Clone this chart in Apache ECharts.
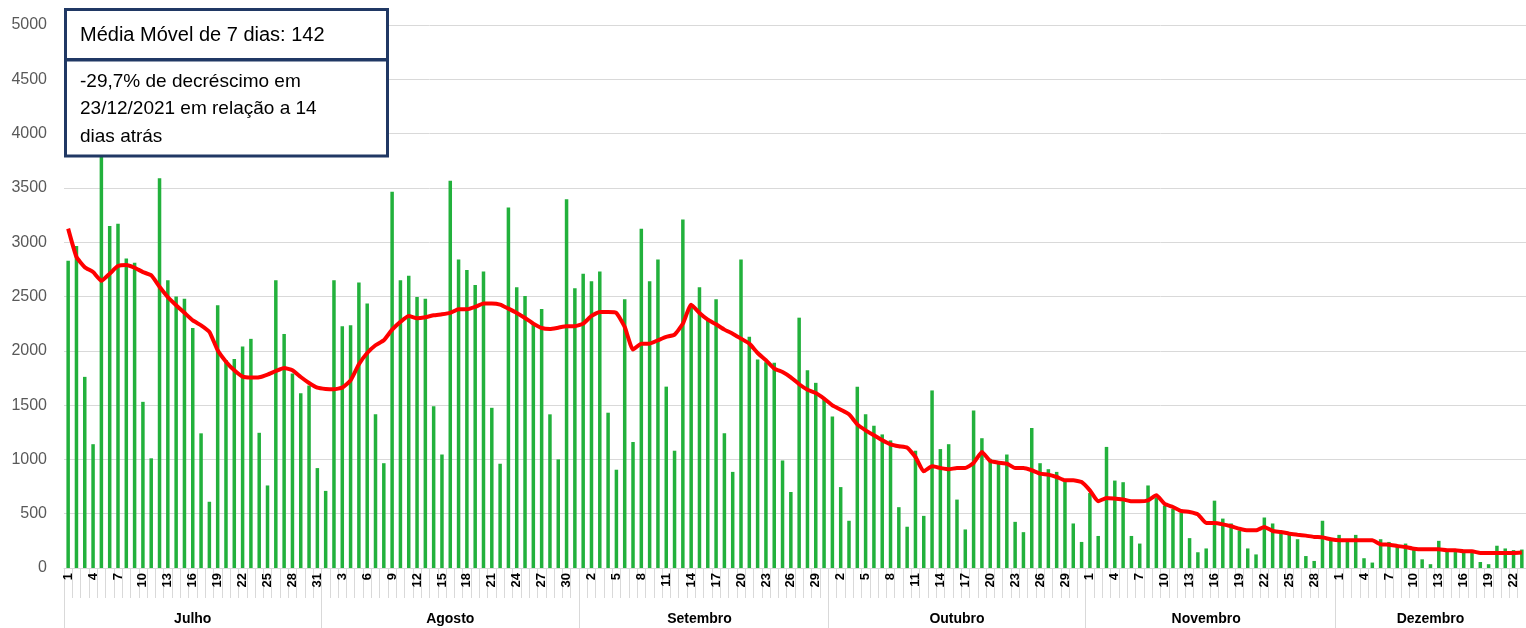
<!DOCTYPE html>
<html>
<head>
<meta charset="utf-8">
<script src="https://cdn.jsdelivr.net/npm/echarts@6/dist/echarts.min.js"></script>
<style>
  html, body { margin: 0; background: #fff; }
  #chart { width: 1526px; height: 628px; }
</style>
</head>
<body>
<div id="chart"></div>
<script>
// meses e dias (dados até 23/12)
const months = ["Julho", "Agosto", "Setembro", "Outubro", "Novembro", "Dezembro"];
const monthDays = [31, 31, 30, 31, 30, 23];

// casos diários
const casosJul = [2830, 2965, 1760, 1140, 3950, 3150, 3170, 2850, 2810, 1530, 1010, 3590, 2650, 2500, 2480, 2210, 1240, 610, 2420, 1915, 1925, 2040, 2110, 1245, 760, 2650, 2155, 1790, 1610, 1680, 920];
const casosAgo = [710, 2650, 2225, 2235, 2630, 2435, 1415, 965, 3465, 2650, 2690, 2495, 2480, 1490, 1045, 3565, 2840, 2745, 2605, 2730, 1475, 960, 3320, 2585, 2505, 2250, 2385, 1415, 1000, 3395, 2575];
const casosSet = [2710, 2640, 2730, 1430, 905, 2475, 1160, 3125, 2640, 2840, 1670, 1080, 3210, 2400, 2585, 2280, 2475, 1240, 885, 2840, 2130, 1920, 1895, 1890, 990, 700, 2305, 1820, 1705, 1560];
const casosOut = [1395, 745, 435, 1670, 1415, 1310, 1230, 1175, 560, 380, 1080, 480, 1635, 1095, 1140, 630, 355, 1450, 1195, 1005, 975, 1045, 425, 330, 1290, 965, 910, 885, 805, 410, 240];
const casosNov = [690, 295, 1115, 805, 790, 295, 225, 760, 650, 575, 545, 510, 275, 145, 180, 620, 455, 410, 345, 180, 125, 465, 410, 330, 315, 265, 110, 65, 435, 255];
const casosDez = [305, 240, 305, 90, 50, 265, 240, 210, 225, 180, 80, 35, 250, 165, 155, 145, 145, 55, 35, 205, 180, 165, 170];

// média móvel de 7 dias
const mediaJul = [3125, 2865, 2770, 2725, 2645, 2710, 2780, 2790, 2765, 2725, 2695, 2590, 2495, 2420, 2350, 2280, 2235, 2175, 2005, 1900, 1820, 1762, 1753, 1756, 1781, 1814, 1842, 1821, 1759, 1704, 1661];
const mediaAgo = [1649, 1646, 1661, 1728, 1876, 1980, 2051, 2097, 2195, 2266, 2321, 2300, 2309, 2327, 2336, 2349, 2382, 2382, 2404, 2435, 2435, 2425, 2388, 2349, 2302, 2250, 2210, 2201, 2213, 2226, 2226];
const mediaSet = [2250, 2321, 2358, 2358, 2349, 2220, 2011, 2066, 2066, 2097, 2128, 2149, 2250, 2425, 2349, 2287, 2244, 2195, 2158, 2112, 2066, 1980, 1913, 1836, 1805, 1756, 1692, 1642, 1612, 1560];
const mediaOut = [1498, 1458, 1415, 1323, 1268, 1222, 1176, 1139, 1121, 1108, 1022, 890, 936, 921, 909, 921, 921, 967, 1068, 985, 970, 961, 921, 921, 900, 869, 860, 838, 807, 807, 792];
const mediaNov = [715, 614, 645, 639, 632, 614, 614, 623, 669, 590, 562, 525, 516, 494, 414, 414, 402, 384, 362, 347, 347, 378, 341, 332, 316, 307, 298, 286, 282, 264];
const mediaDez = [255, 255, 255, 255, 255, 218, 215, 203, 193, 178, 172, 172, 172, 163, 163, 154, 154, 138, 138, 138, 138, 138, 142];

const boxTitle = "Média Móvel de 7 dias: 142";
const boxText = "-29,7% de decréscimo em\n23/12/2021 em relação a 14\ndias atrás";

const casos = [].concat(casosJul, casosAgo, casosSet, casosOut, casosNov, casosDez);
const media = [].concat(mediaJul, mediaAgo, mediaSet, mediaOut, mediaNov, mediaDez);

// rótulos dos dias e dos meses
const dayLabels = [];
const monthLabels = [];
const monthStarts = [];
monthDays.forEach((n, m) => {
  monthStarts.push(dayLabels.length);
  const mid = Math.floor((n - 1) / 2);
  for (let d = 1; d <= n; d++) {
    dayLabels.push(String(d));
    monthLabels.push(d - 1 === mid ? months[m] : "");
  }
});

const chart = echarts.init(document.getElementById("chart"));
const font = "Liberation Sans";
const gray = "#d9d9d9";
const navy = "#203864";

chart.setOption({
  animation: false,
  textStyle: { fontFamily: font },
  grid: { left: 64, top: 25, width: 1469, bottom: 60 },
  xAxis: [
    {
      type: "category",
      data: dayLabels,
      position: "bottom",
      axisLine: { show: true, lineStyle: { color: gray } },
      axisTick: { show: true, interval: 0, length: 30, lineStyle: { color: gray } },
      axisLabel: {
        interval: 2,
        rotate: 90,
        margin: 5,
        fontSize: 13,
        fontWeight: "bold",
        color: "#000",
        fontFamily: font
      }
    },
    {
      type: "category",
      data: monthLabels,
      position: "bottom",
      axisLine: { show: false },
      axisTick: {
        show: true,
        length: 62,
        interval: (idx) => monthStarts.includes(idx),
        lineStyle: { color: gray }
      },
      axisLabel: {
        interval: 0,
        margin: 44,
        fontSize: 14,
        fontWeight: "bold",
        color: "#000",
        fontFamily: font
      }
    }
  ],
  yAxis: {
    type: "value",
    min: 0,
    max: 5000,
    interval: 500,
    axisLine: { show: false },
    axisTick: { show: false },
    axisLabel: {
      color: "#595959",
      fontSize: 16,
      margin: 17,
      fontFamily: font,
      formatter: (v) => String(v)
    },
    splitLine: { lineStyle: { color: gray, width: 1 } }
  },
  series: [
    {
      name: "Casos",
      type: "bar",
      data: casos,
      barWidth: 3.5,
      itemStyle: { color: "#22b13c" }
    },
    {
      name: "Média móvel 7 dias",
      type: "line",
      data: media,
      smooth: 0.15,
      symbol: "none",
      lineStyle: { color: "#ff0000", width: 4 },
      z: 3
    }
  ],
  graphic: [
    {
      type: "rect",
      z: 100,
      shape: { x: 65.5, y: 9.5, width: 322, height: 50 },
      style: { fill: "#fff", stroke: navy, lineWidth: 3 }
    },
    {
      type: "rect",
      z: 100,
      shape: { x: 65.5, y: 60, width: 322, height: 96 },
      style: { fill: "#fff", stroke: navy, lineWidth: 3 }
    },
    {
      type: "text",
      z: 101,
      x: 80,
      y: 35,
      style: {
        text: boxTitle,
        fill: "#000",
        font: "20px " + font,
        verticalAlign: "middle"
      }
    },
    {
      type: "text",
      z: 101,
      x: 80,
      y: 68,
      style: {
        text: boxText,
        fill: "#000",
        font: "19px " + font,
        lineHeight: 27.5,
        verticalAlign: "top"
      }
    }
  ]
});
</script>
</body>
</html>
